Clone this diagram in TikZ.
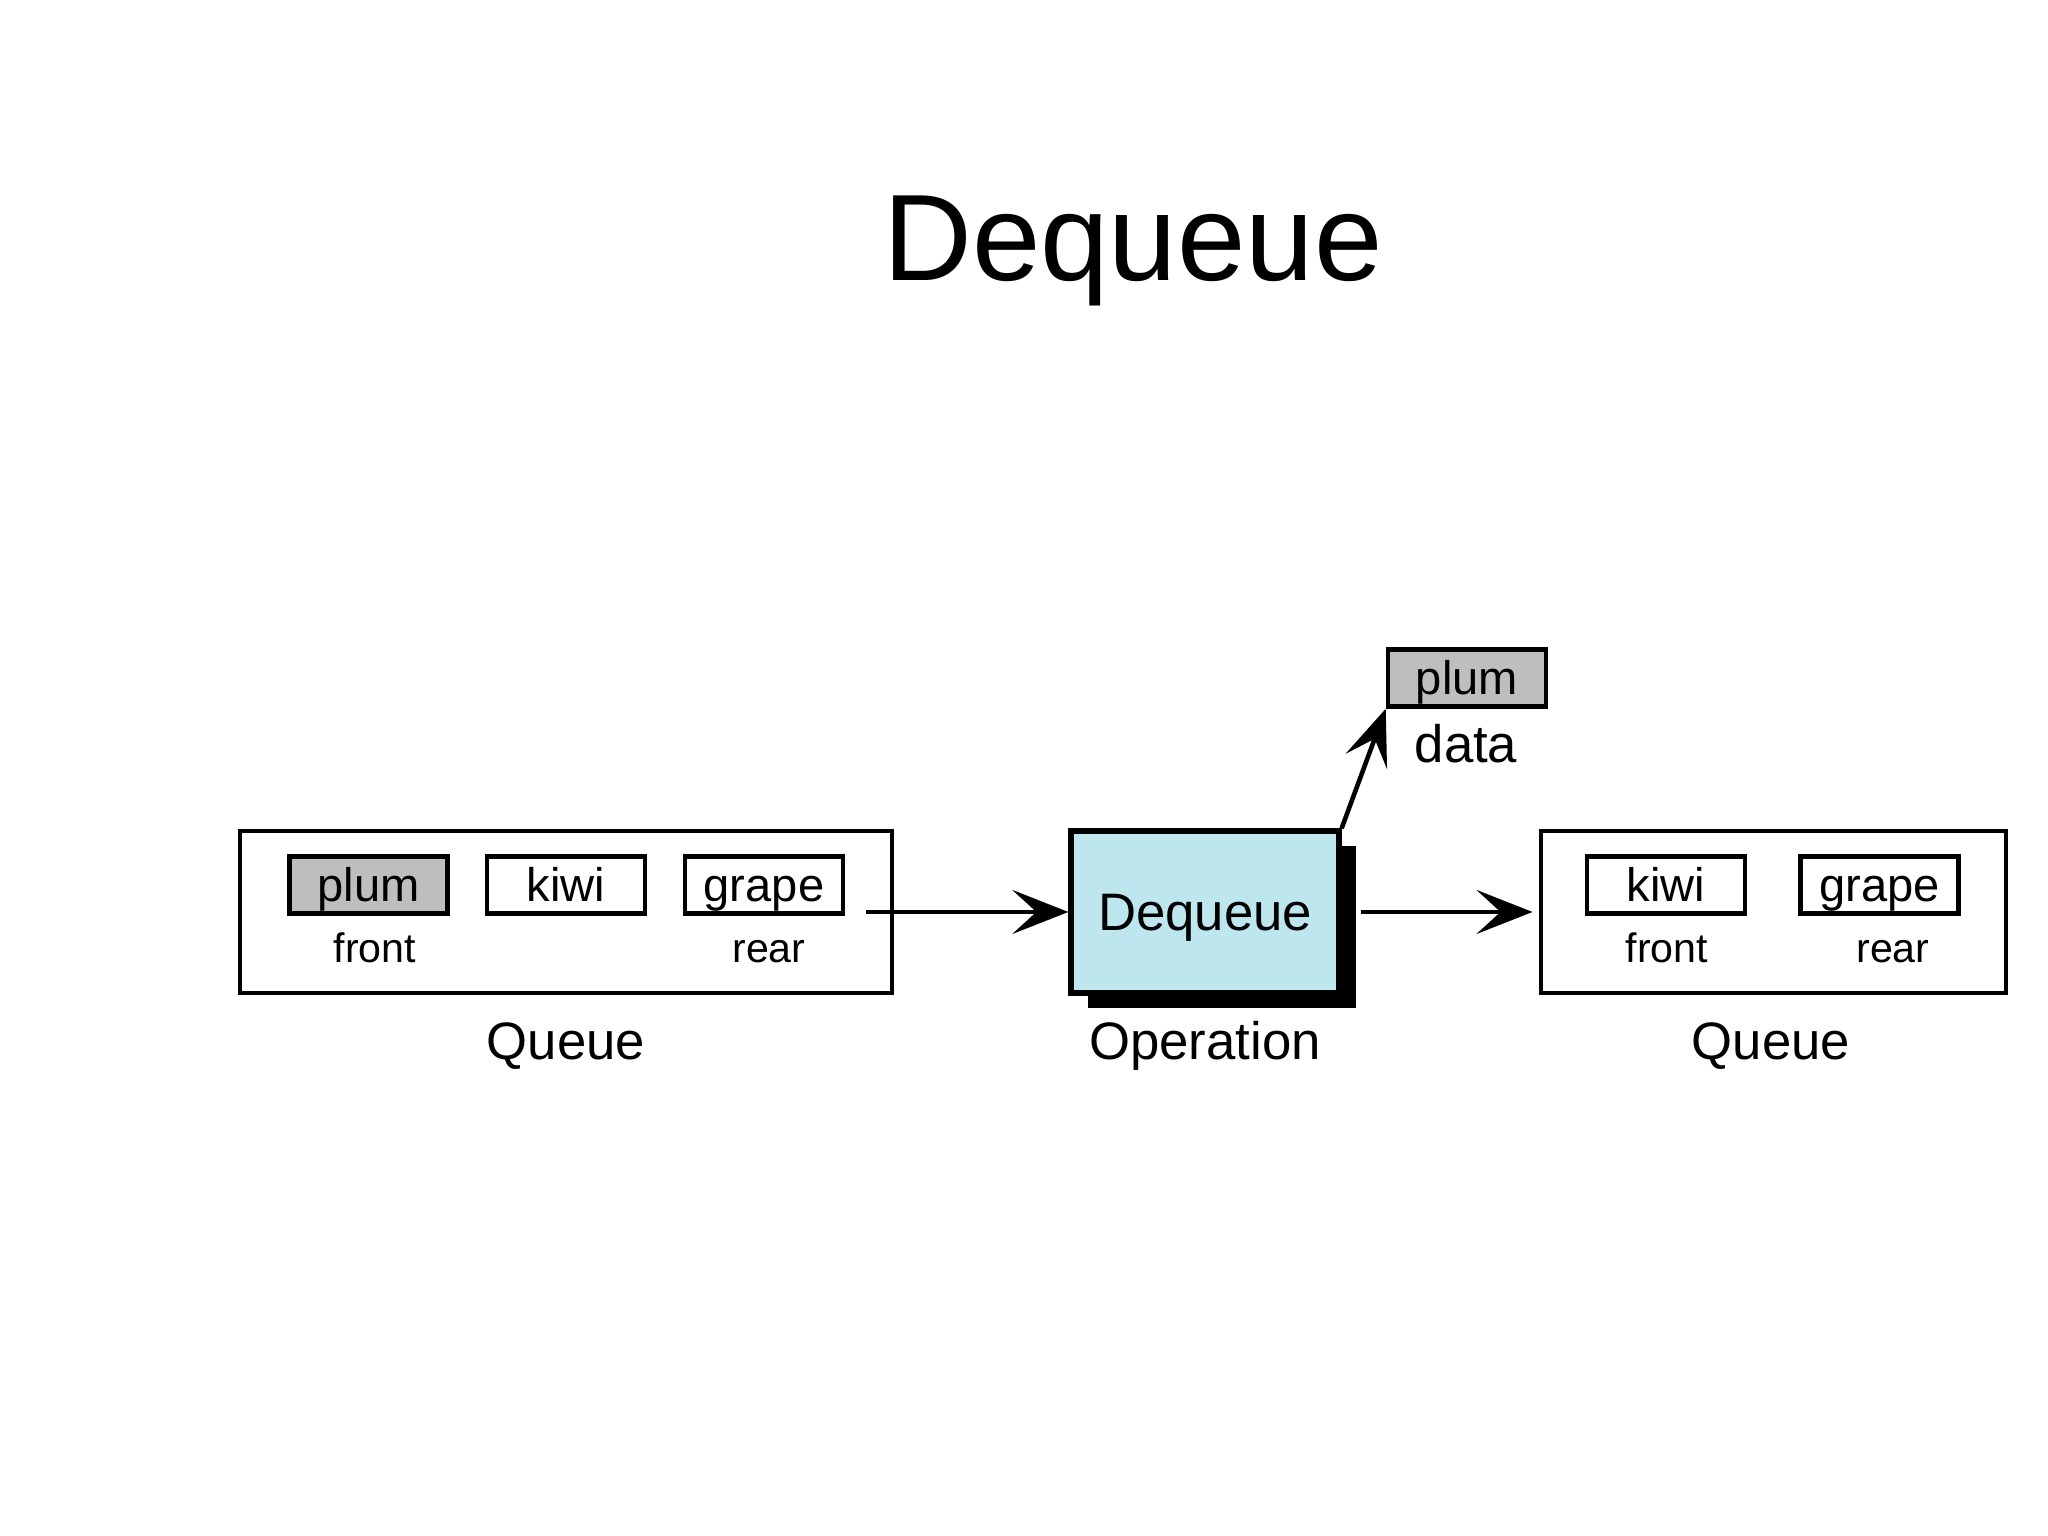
\documentclass[tikz,border=0pt]{standalone}
\usepackage{fontspec}
\setmainfont{Liberation Sans}
\usetikzlibrary{arrows.meta,shadows}
\definecolor{opblue}{RGB}{190,230,238}
\definecolor{plumgray}{RGB}{190,190,190}
\tikzset{
qbox/.style={draw,line width=1.4pt,minimum width=#1,minimum height=1.62cm,inner sep=0pt},
item/.style={draw,line width=1.3pt,minimum width=1.58cm,minimum height=0.57cm,inner sep=0pt,
  text height=0.34cm,text depth=0pt,font=\fontsize{13.4}{15}\selectfont},
lab/.style={anchor=base,font=\fontsize{11.7}{13}\selectfont},
qlabel/.style={anchor=base,font=\fontsize{15}{17}\selectfont},
flow/.style={line width=1.3pt,-{Stealth[length=0.56cm,width=0.44cm,inset=0.24cm]}}
}
\begin{document}
\begin{tikzpicture}
\fill[white] (0,0) rectangle (20.48,15.36);
\node[anchor=base,font=\fontsize{35}{40}\selectfont] (title) at (11.33,12.55) {Dequeue};
%left queue
\node[qbox=6.52cm] (lq) at (5.66,6.24) {};
\foreach \f/\n/\x in {plumgray/plum/3.685,white/kiwi/5.66,white/grape/7.64}{
\node[item,fill=\f] (l\n) at (\x,6.51) {\n};}
\node[lab] (lfront) at (3.75,5.73) {front};
\node[lab] (lrear) at (7.69,5.73) {rear};
\node[qlabel] (lqname) at (5.66,4.76) {Queue};
%operation
\node[draw,line width=1.5pt,fill=opblue,minimum width=2.68cm,minimum height=1.62cm,
  text height=0.38cm,text depth=0pt,
  drop shadow={shadow xshift=0.17cm,shadow yshift=-0.15cm,fill=black,opacity=1},
  font=\fontsize{15}{17}\selectfont] (op) at (12.05,6.24) {Dequeue};
\node[qlabel] (opname) at (12.05,4.76) {Operation};
%data out
\node[item,fill=plumgray] (data) at (14.67,8.58) {plum};
\node[qlabel] (dataname) at (14.66,7.73) {data};
%right queue
\node[qbox=4.65cm] (rq) at (17.735,6.24) {};
\foreach \n/\x in {kiwi/16.66,grape/18.795}{
\node[item] (r\n) at (\x,6.51) {\n};}
\node[lab] (rfront) at (16.67,5.73) {front};
\node[lab] (rrear) at (18.93,5.73) {rear};
\node[qlabel] (rqname) at (17.71,4.76) {Queue};
%arrows
\coordinate (qout) at (8.66,6.24);
\coordinate (opout) at ([xshift=0.19cm]op.east);
\draw[flow] (qout) -- (op.west);
\draw[flow] (opout) -- ([xshift=-0.06cm]rq.west);
\draw[flow] (op.north east) -- (data.south west);
\end{tikzpicture}
\end{document}
